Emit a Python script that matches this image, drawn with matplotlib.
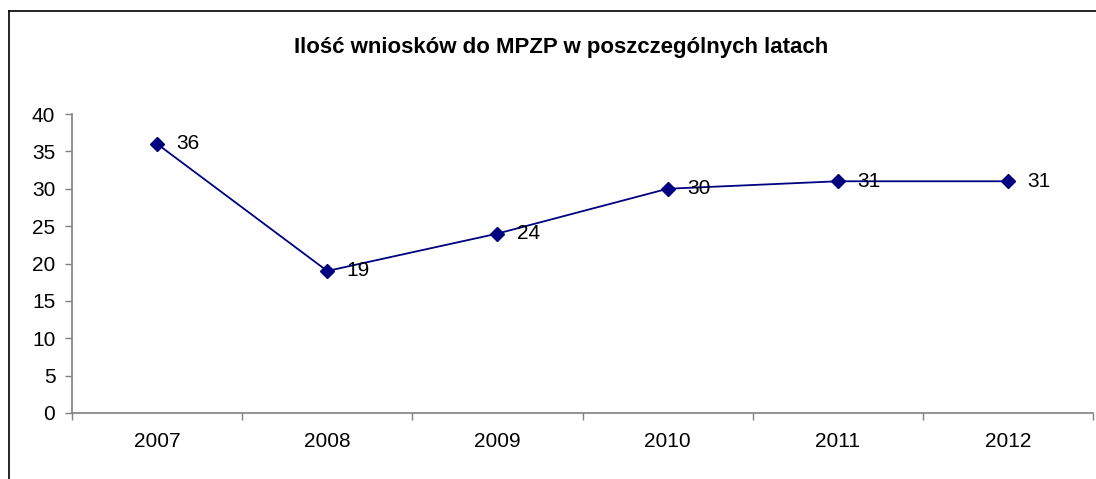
import matplotlib
matplotlib.use('Agg')
import matplotlib.pyplot as plt
from matplotlib.lines import Line2D
import numpy as np

# data
years = ['2007', '2008', '2009', '2010', '2011', '2012']
wnioski = [36, 19, 24, 30, 31, 31]
title = 'Ilość wniosków do MPZP w poszczególnych latach'

plt.rcParams['font.family'] = ['Liberation Sans', 'DejaVu Sans']

W, H = 1096, 479
fig = plt.figure(figsize=(W / 100, H / 100), dpi=100)
ax = fig.add_axes([72 / W, 1 - 413 / H, (1093 - 72) / W, (413 - 114) / H])

x = np.arange(len(years))
ax.plot(x, wnioski, color='#000080', lw=1.3, marker='D', ms=7,
        markerfacecolor='#000080', markeredgecolor='#000080', clip_on=False)
for xi, v in zip(x, wnioski):
    ax.annotate(str(v), (xi, v), xytext=(14, 0), textcoords='offset points',
                ha='left', va='center', fontsize=15)

ax.set_xlim(-0.5, len(years) - 0.5)
ax.set_ylim(0, 40)
ax.set_yticks(range(0, 41, 5))
ax.set_xticks(x)
ax.set_xticklabels(years)
ax.set_xticks(np.arange(-0.5, len(years), 1), minor=True)
ax.tick_params(axis='x', which='major', length=0, pad=14, labelsize=15)
ax.tick_params(axis='x', which='minor', length=5, width=1, color='#808080')
ax.tick_params(axis='y', length=5, width=1, color='#808080', pad=7, labelsize=15)
for s in ['top', 'right']:
    ax.spines[s].set_visible(False)
for s in ['left', 'bottom']:
    ax.spines[s].set_color('#808080')
    ax.spines[s].set_linewidth(1.2)

fig.text(561 / W, 1 - 47 / H, title, ha='center', va='center',
         fontsize=16, fontweight='bold')

# outer chart frame (only left and top visible in the crop)
fig.add_artist(Line2D([9 / W, 9 / W], [0, 1 - 11 / H], transform=fig.transFigure,
                      color='black', lw=1.2))
fig.add_artist(Line2D([9 / W, 1], [1 - 11 / H, 1 - 11 / H], transform=fig.transFigure,
                      color='black', lw=1.2))

fig.savefig('out.png', dpi=100)
